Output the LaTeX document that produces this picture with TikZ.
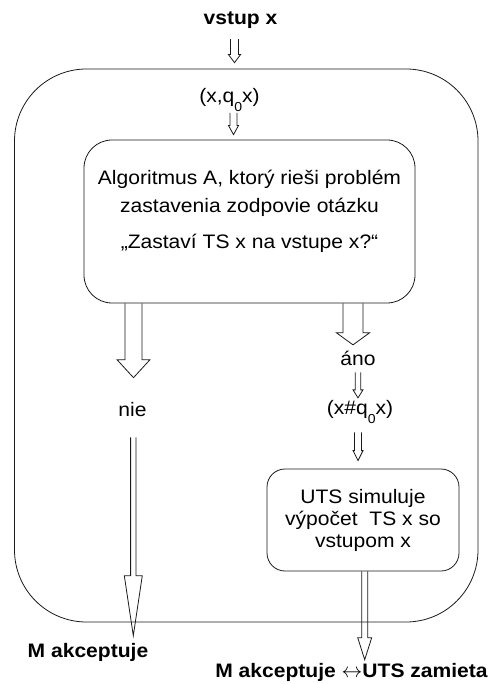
\documentclass[tikz,border=0pt]{standalone}
\usepackage{fontspec}
\setmainfont{Liberation Sans}[FakeStretch=1.08]
\usetikzlibrary{calc}
\definecolor{lineblk}{HTML}{1A1A1A}
\newcommand\txtfont{\fontsize{19.5}{28}\selectfont}
\newcommand\lblfont{\fontsize{19.5}{24}\selectfont\bfseries}
\newcommand\subzero{\raisebox{-9pt}{\fontsize{13}{13}\selectfont 0}}
\tikzset{
  machine/.style={rectangle, draw=lineblk, line width=0.8pt,
    rounded corners=72pt, inner sep=0pt},
  procbox/.style={rectangle, draw=lineblk, line width=0.8pt, align=center,
    font=\txtfont, inner sep=0pt},
  lbl/.style={inner sep=0pt, anchor=base, font=\txtfont},
  blbl/.style={inner sep=0pt, anchor=base, font=\lblfont},
  hollow/.style={draw=lineblk, line width=0.8pt, line join=miter},
}
% hollow block arrow: from, to, half shaft, half head, head length
\newcommand\hollowarrow[5]{%
  \path (#1) coordinate (ha-s) (#2) coordinate (ha-e);
  \draw[hollow] ($(ha-s -| ha-e)+(-#3,0)$) -- ($(ha-e)+(-#3,-#5)$)
    -- ($(ha-e)+(-#4,-#5)$) -- (ha-e) -- ($(ha-e)+(#4,-#5)$)
    -- ($(ha-e)+(#3,-#5)$) -- ($(ha-s -| ha-e)+(#3,0)$);}

\begin{document}
\begin{tikzpicture}[x=1pt, y=-1pt]
  \useasboundingbox (0,0) rectangle (492,684);

  % --- stroj M ---
  \node[machine, minimum width=463.5pt, minimum height=553pt]
        (outer) at (246.25, 345.5) {};

  % --- vstup ---
  \node[blbl] (vstup) at (240.5, 25) {vstup x};
  \node[lbl]  (inp)   at (229.5, 102.5) {(x,q\subzero x)};

  % --- algoritmus A ---
  \node[procbox, rounded corners=28pt, minimum width=331pt, minimum height=163pt]
        (alg) at (249.5, 221.5)
        {Algoritmus A, ktorý rieši problém\\zastavenia zodpovie otázku\\[8pt]
         „Zastaví TS x na vstupe x?“\\[-4pt]\mbox{}};

  % --- vetva nie ---
  \node[lbl] (nie) at (132.5, 416) {nie};
  \node[blbl] (mleft) at (88, 657) {M akceptuje};

  % --- vetva áno ---
  \node[lbl] (ano)  at (358, 365) {áno};
  \node[lbl] (hash) at (360, 414.5) {(x\#q\subzero x)};
  \node[procbox, rounded corners=18pt, minimum width=192pt, minimum height=102pt,
        font=\fontsize{19.5}{22}\selectfont]
        (uts) at (363, 520) {UTS simuluje\\výpočet~ TS x so\\vstupom x};
  \node[blbl] (mright) at (351.5, 677) {M akceptuje $\leftrightarrow$UTS zamieta};

  % --- sipky ---
  \hollowarrow{[yshift=-10pt]vstup.south}{$(outer.north -| inp.north)+(5,-6)$}{4}{6}{8}
  \hollowarrow{[yshift=-1pt]inp.south}{$(alg.north -| inp.north)+(4,-5)$}{3.5}{5}{9}
  \hollowarrow{alg.south}{$(nie.north)+(1,-24)$}{8.5}{16.5}{18}
  \hollowarrow{[yshift=-21pt]nie.south}{$(mleft.north -| nie.south)+(0.8,-7)$}{2.7}{9}{60}
  \hollowarrow{alg.south}{$(ano.north)+(-5,-5.6)$}{10}{16.5}{12}
  \hollowarrow{[yshift=-7pt]ano.south}{$(hash.north)+(-2,-2.3)$}{2.7}{5}{8}
  \hollowarrow{[yshift=-8.5pt]hash.south}{$(uts.north)+(-5,-8)$}{3.5}{5}{10}
  \hollowarrow{uts.south}{$(mright.north)+(13.2,-3)$}{3}{7}{22}

\end{tikzpicture}
\end{document}
